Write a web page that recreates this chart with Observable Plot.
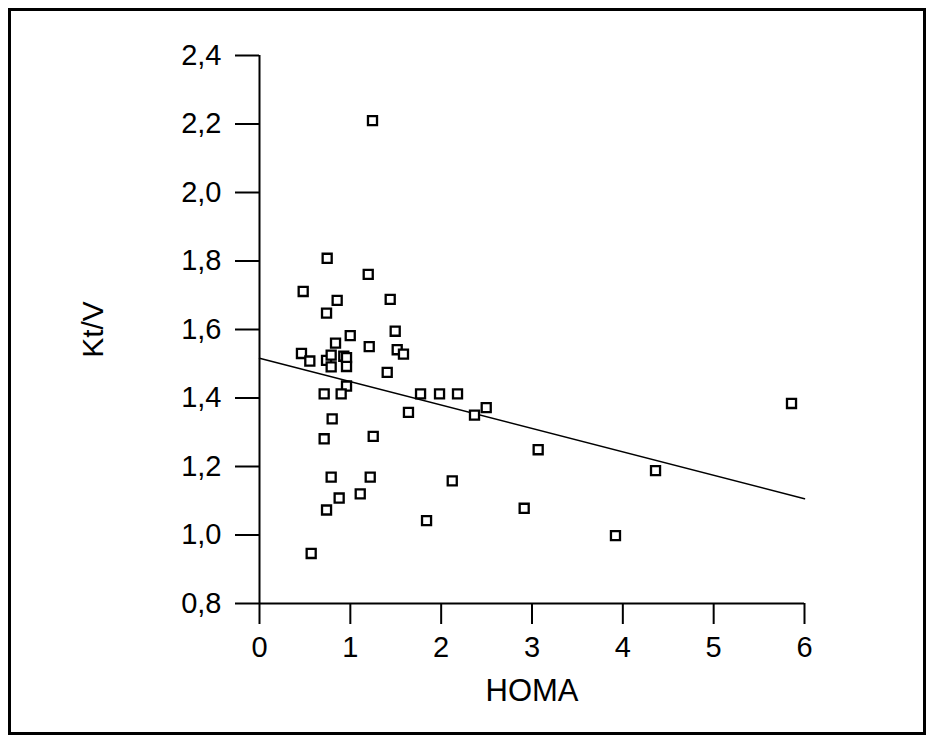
<!DOCTYPE html>
<html>
<head>
<meta charset="utf-8">
<script src="https://cdn.jsdelivr.net/npm/d3@7"></script>
<script src="https://cdn.jsdelivr.net/npm/@observablehq/plot@0.6"></script>
<style>
  html, body { margin: 0; padding: 0; background: #fff; }
  #wrap { position: relative; width: 935px; height: 738px; overflow: hidden; }
  #box { position: absolute; left: 8px; top: 8px; width: 918px; height: 727px; border: 3px solid #000; box-sizing: border-box; pointer-events: none; }
  #chart { position: absolute; left: 0; top: 0; }
</style>
</head>
<body>
<div id="wrap">
  <div id="chart"></div>
  <div id="box"></div>
</div>
<script>
// HOMA (x) and Kt/V (y) values
const homa = [
  1.244, 0.745, 1.197, 0.481, 0.855, 1.439, 0.738, 1.494, 0.999, 0.837,
  1.208, 1.516, 1.585, 0.462, 0.554, 0.738, 0.789, 0.928, 0.958, 0.958,
  0.789, 1.406, 0.958, 0.712, 0.899, 1.773, 1.982, 2.180, 2.367, 2.496,
  1.640, 0.800, 1.252, 0.712, 3.068, 0.789, 1.219, 2.122, 0.877, 1.109,
  0.738, 1.839, 2.914, 0.569, 3.919, 4.360, 5.857
];
const ktv = [
  2.210, 1.808, 1.761, 1.711, 1.685, 1.688, 1.648, 1.595, 1.582, 1.560,
  1.550, 1.541, 1.528, 1.530, 1.508, 1.510, 1.525, 1.522, 1.518, 1.492,
  1.491, 1.475, 1.435, 1.412, 1.412, 1.412, 1.412, 1.412, 1.350, 1.372,
  1.358, 1.339, 1.288, 1.281, 1.249, 1.169, 1.169, 1.158, 1.108, 1.120,
  1.073, 1.042, 1.078, 0.946, 0.998, 1.188, 1.384
];
// Fitted regression line endpoints
const fitX = [0, 6];
const fitY = [1.516, 1.106];
// Tick values
const xTicks = [0, 1, 2, 3, 4, 5, 6];
const yTicks = [0.8, 1.0, 1.2, 1.4, 1.6, 1.8, 2.0, 2.2, 2.4];

const points = homa.map((x, i) => ({x, y: ktv[i]}));
const fit = fitX.map((x, i) => ({x, y: fitY[i]}));

const plot = Plot.plot({
  width: 935,
  height: 738,
  marginLeft: 259,
  marginRight: 131,
  marginTop: 55,
  marginBottom: 135,
  style: {fontFamily: "'Liberation Sans', Arial, sans-serif", fontSize: "29px", color: "#000", background: "transparent"},
  x: {domain: [0, 6]},
  y: {domain: [0.8, 2.4]},
  marks: [
    Plot.ruleY([0.8], {stroke: "#000", strokeWidth: 2}),
    Plot.ruleX([0], {stroke: "#000", strokeWidth: 2}),
    Plot.axisX({ticks: xTicks, tickSize: 21, tickPadding: 12, strokeWidth: 2, fontSize: 29,
      tickFormat: d => String(d), label: null}),
    Plot.axisX({ticks: [], tickSize: 0, fontSize: 31,
      label: "HOMA", labelAnchor: "center", labelArrow: "none", labelOffset: 97}),
    Plot.axisY({ticks: yTicks, tickSize: 24, tickPadding: 14, strokeWidth: 2, fontSize: 29,
      tickFormat: d => d.toFixed(1).replace(".", ","), label: null}),
    Plot.axisY({ticks: [], tickSize: 0, fontSize: 30,
      label: "Kt/V", labelAnchor: "center", labelArrow: "none", labelOffset: 178}),
    Plot.line(fit, {x: "x", y: "y", stroke: "#000", strokeWidth: 1.5}),
    Plot.dot(points, {x: "x", y: "y", symbol: "square", r: 5.1, stroke: "#000", strokeWidth: 2.3, fill: "#fff"})
  ]
});
document.getElementById("chart").appendChild(plot);
</script>
</body>
</html>
